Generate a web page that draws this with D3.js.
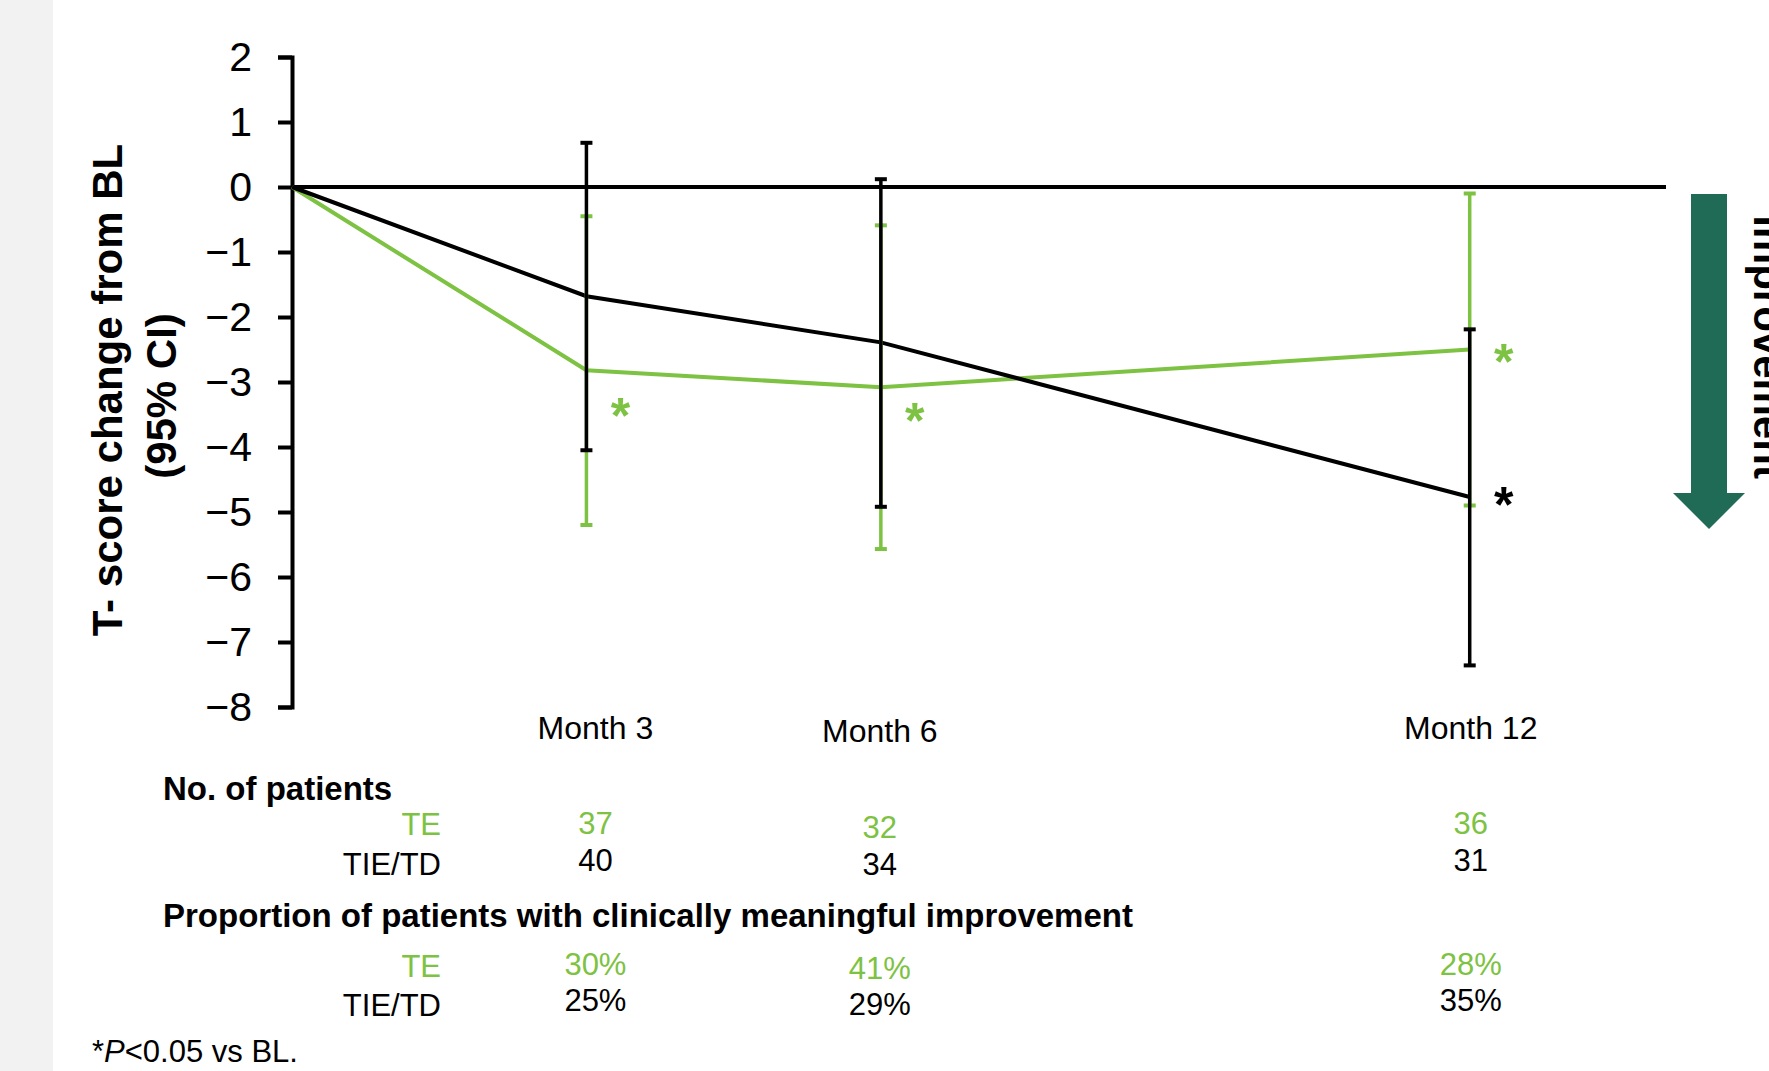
<!DOCTYPE html>
<html>
<head>
<meta charset="utf-8">
<script src="https://cdn.jsdelivr.net/npm/d3@7/dist/d3.min.js"></script>
<style>
  html, body { margin: 0; padding: 0; background: #ffffff; }
  svg { display: block; font-family: "Liberation Sans", Arial, Helvetica, sans-serif; }
</style>
</head>
<body>
<svg id="chart" width="1769" height="1071"></svg>
<script>
// ---- Data ----------------------------------------------------------
const months      = [0, 3, 6, 12];
const monthLabels = ["Month 3", "Month 6", "Month 12"];
const yTickValues = [2, 1, 0, -1, -2, -3, -4, -5, -6, -7, -8];

// TE group: mean change and 95% CI
const teMean  = [0, -2.82, -3.08, -2.50];
const teUpper = [null, -0.45, -0.59, -0.10];
const teLower = [null, -5.20, -5.57, -4.90];
const teSig   = [false, true, true, true];

// TIE/TD group: mean change and 95% CI
const tieMean  = [0, -1.68, -2.39, -4.77];
const tieUpper = [null, 0.68, 0.12, -2.19];
const tieLower = [null, -4.05, -4.92, -7.36];
const tieSig   = [false, false, false, true];

// Table rows under the chart
const teN    = [37, 32, 36];
const tieN   = [40, 34, 31];
const tePct  = ["30%", "41%", "28%"];
const tiePct = ["25%", "29%", "35%"];

// ---- Styling -------------------------------------------------------
const GREEN = "#7DC242";
const BLACK = "#000000";
const ARROW = "#206B55";

const svg = d3.select("#chart");

// light grey band down the left edge
svg.append("rect").attr("x", 0).attr("y", 0).attr("width", 53).attr("height", 1071).attr("fill", "#f2f2f2");
svg.append("rect").attr("x", 53).attr("y", 0).attr("width", 1716).attr("height", 1071).attr("fill", "#ffffff");

// ---- Scales --------------------------------------------------------
const x = d3.scaleLinear().domain([0, 14]).range([292, 1666]);
const y = d3.scaleLinear().domain([-8, 2]).range([707, 57]);

// ---- Y axis --------------------------------------------------------
const yAxis = d3.axisLeft(y)
  .tickValues(yTickValues)
  .tickSize(14)
  .tickSizeOuter(14)
  .tickPadding(26)
  .tickFormat(d3.format("d"));

const gy = svg.append("g").attr("transform", `translate(${x(0)},0)`).call(yAxis);
gy.select(".domain").attr("stroke", BLACK).attr("stroke-width", 4).attr("fill", "none");
gy.selectAll(".tick line").attr("stroke", BLACK).attr("stroke-width", 4);
gy.selectAll(".tick text")
  .attr("fill", BLACK)
  .style("font-size", "41px")
  .style("font-family", "'Liberation Sans', Arial, sans-serif");

// zero reference line
svg.append("line")
  .attr("x1", x(0)).attr("x2", x(14))
  .attr("y1", y(0)).attr("y2", y(0))
  .attr("stroke", BLACK).attr("stroke-width", 4);

// y-axis title (two lines)
const titleG = svg.append("g").attr("font-weight", "bold").attr("font-size", 42).attr("fill", BLACK);
titleG.append("text")
  .attr("transform", "translate(122,390) rotate(-90)")
  .attr("text-anchor", "middle")
  .text("T- score change from BL");
titleG.append("text")
  .attr("transform", "translate(176,396) rotate(-90)")
  .attr("text-anchor", "middle")
  .text("(95% CI)");

// ---- Series --------------------------------------------------------
const series = [
  { name: "TE",     color: GREEN, mean: teMean,  upper: teUpper,  lower: teLower,  sig: teSig },
  { name: "TIE/TD", color: BLACK, mean: tieMean, upper: tieUpper, lower: tieLower, sig: tieSig }
];

const line = d3.line()
  .x(d => x(d.m))
  .y(d => y(d.v));

series.forEach(s => {
  svg.append("path")
    .datum(months.map((m, i) => ({ m, v: s.mean[i] })))
    .attr("d", line)
    .attr("fill", "none")
    .attr("stroke", s.color)
    .attr("stroke-width", 4)
    .attr("stroke-linejoin", "miter");
});

// error bars (TE first, TIE/TD on top)
const capHalf = 6;
series.forEach(s => {
  const bars = months.map((m, i) => ({ m, lo: s.lower[i], hi: s.upper[i] })).filter(d => d.lo !== null);
  const g = svg.append("g").attr("stroke", s.color).attr("stroke-width", 3.5);
  g.selectAll("line.bar").data(bars).join("line")
    .attr("class", "bar")
    .attr("x1", d => x(d.m)).attr("x2", d => x(d.m))
    .attr("y1", d => y(d.hi)).attr("y2", d => y(d.lo));
  g.selectAll("line.capHi").data(bars).join("line")
    .attr("class", "capHi")
    .attr("x1", d => x(d.m) - capHalf).attr("x2", d => x(d.m) + capHalf)
    .attr("y1", d => y(d.hi)).attr("y2", d => y(d.hi))
    .attr("stroke-width", 4);
  g.selectAll("line.capLo").data(bars).join("line")
    .attr("class", "capLo")
    .attr("x1", d => x(d.m) - capHalf).attr("x2", d => x(d.m) + capHalf)
    .attr("y1", d => y(d.lo)).attr("y2", d => y(d.lo))
    .attr("stroke-width", 4);
});

// significance asterisks beside each flagged point
const starFont = 50;
const starDx = 34;
const starDy = { "TE": [0, 34, 22, 0], "TIE/TD": [0, 0, 0, -4] };
series.forEach(s => {
  months.forEach((m, i) => {
    if (!s.sig[i]) return;
    const cy = y(s.mean[i]) + starDy[s.name][i];
    svg.append("text")
      .attr("x", x(m) + starDx)
      .attr("y", cy + starFont * 0.58)
      .attr("text-anchor", "middle")
      .attr("font-size", starFont)
      .attr("font-weight", "bold")
      .attr("fill", s.color)
      .text("*");
  });
});

// ---- Month labels --------------------------------------------------
const colMonths = months.slice(1);
const colNudge = [{ dx: 9, dy: 0 }, { dx: -1, dy: 3.5 }, { dx: 1, dy: 0 }];
const colX = i => x(colMonths[i]) + colNudge[i].dx;

svg.append("g").selectAll("text").data(monthLabels).join("text")
  .attr("x", (d, i) => colX(i))
  .attr("y", (d, i) => 738.5 + colNudge[i].dy)
  .attr("text-anchor", "middle")
  .attr("font-size", 32)
  .attr("fill", BLACK)
  .text(d => d);

// ---- Table under the chart -----------------------------------------
const headG = svg.append("g").attr("font-weight", "bold").attr("font-size", 33).attr("fill", BLACK);
headG.append("text").attr("x", 163).attr("y", 800).text("No. of patients");
headG.append("text").attr("x", 163).attr("y", 927).text("Proportion of patients with clinically meaningful improvement");

const rows = [
  { label: "TE",     color: GREEN, values: teN,    labelY: 835,  valueY: 834 },
  { label: "TIE/TD", color: BLACK, values: tieN,   labelY: 875, valueY: 871 },
  { label: "TE",     color: GREEN, values: tePct,  labelY: 977,  valueY: 975 },
  { label: "TIE/TD", color: BLACK, values: tiePct, labelY: 1016, valueY: 1011 }
];

rows.forEach(r => {
  svg.append("text")
    .attr("x", 441).attr("y", r.labelY)
    .attr("text-anchor", "end")
    .attr("font-size", 31)
    .attr("fill", r.color)
    .text(r.label);
  svg.append("g").selectAll("text").data(r.values).join("text")
    .attr("x", (d, i) => colX(i))
    .attr("y", (d, i) => r.valueY + colNudge[i].dy)
    .attr("text-anchor", "middle")
    .attr("font-size", 31)
    .attr("fill", r.color)
    .text(d => d);
});

// footnote
const foot = svg.append("text").attr("x", 92).attr("y", 1062).attr("font-size", 31).attr("fill", BLACK);
foot.append("tspan").text("*");
foot.append("tspan").attr("font-style", "italic").text("P");
foot.append("tspan").text("<0.05 vs BL.");

// ---- Direction-of-improvement arrow ----------------------------------
const arrowTop = 194, headBase = 493, tipY = 529;
const cx = 1709, shaftHalf = 18, headHalf = 36;
svg.append("path")
  .attr("d", d3.line()([
    [cx - shaftHalf, arrowTop], [cx + shaftHalf, arrowTop], [cx + shaftHalf, headBase],
    [cx + headHalf, headBase], [cx, tipY], [cx - headHalf, headBase], [cx - shaftHalf, headBase]
  ]) + "Z")
  .attr("fill", ARROW);

svg.append("text")
  .attr("transform", "translate(1754,347) rotate(90)")
  .attr("text-anchor", "middle")
  .attr("font-weight", "bold")
  .attr("font-size", 42)
  .attr("fill", BLACK)
  .text("improvement");
</script>
</body>
</html>
